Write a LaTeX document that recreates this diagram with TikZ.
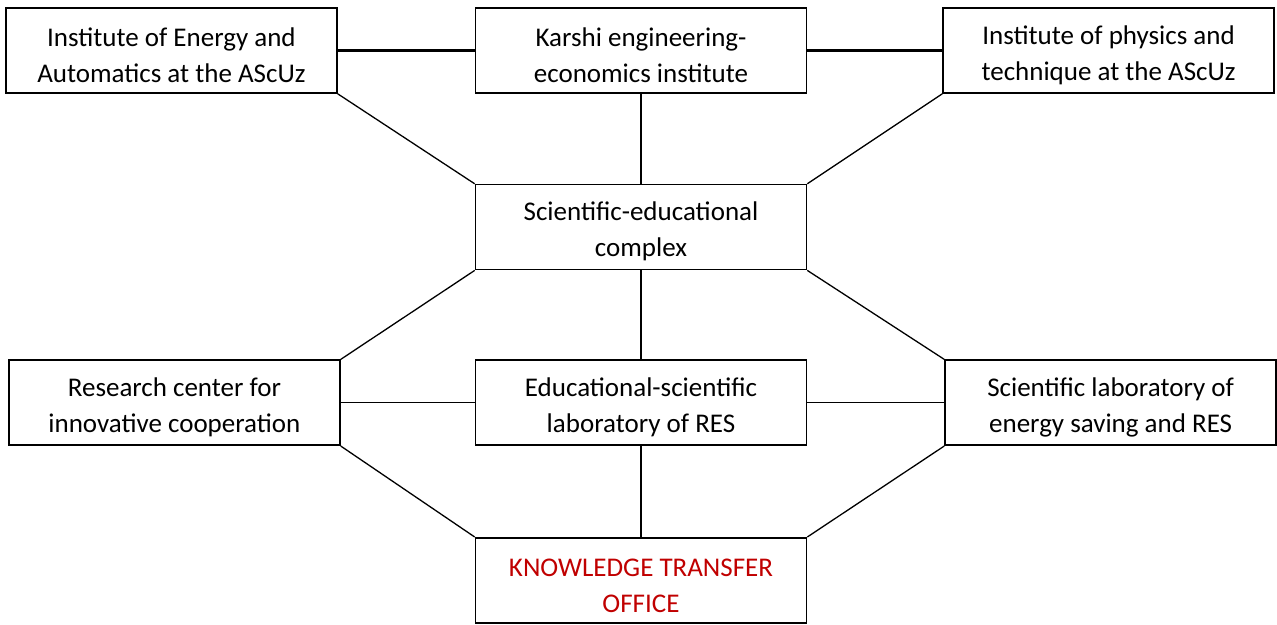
\documentclass[tikz,border=0pt]{standalone}
\usepackage{fontspec}
\setmainfont{Carlito}
\usetikzlibrary{positioning}
\definecolor{ktored}{RGB}{192,0,0}
\newcommand{\topstrut}{\rule{0pt}{28pt}}

\begin{document}
\begin{tikzpicture}[x=1pt, y=1pt, node distance=90pt and 136pt,
    box/.style={draw, line width=1.6pt, minimum width=331pt, minimum height=85pt,
      inner sep=0pt, align=center, font=\fontsize{27}{36}\selectfont},
    link/.style={line width=1.3pt},
    boldlink/.style={line width=2.6pt}]
  \useasboundingbox (0,0) rectangle (1277,-624);

  \node[box] (karshi) at (641,-50.5) {\topstrut Karshi engineering-\\economics institute};
  \node[box, left=137pt of karshi] (energy) {\topstrut Institute of Energy and\\Automatics at the AScUz};
  \node[box, right=135pt of karshi] (physics) {\topstrut Institute of physics and\\technique at the AScUz};
  \node[box, below=90pt of karshi] (complex) {\topstrut Scientific-educational\\complex};
  \node[box, below=89pt of complex] (edulab) {\topstrut Educational-scientific\\laboratory of RES};
  \node[box, left=134pt of edulab] (research) {\topstrut Research center for\\innovative cooperation};
  \node[box, right=137pt of edulab] (savelab) {\topstrut Scientific laboratory of\\energy saving and RES};
  \node[box, below=91pt of edulab, text=ktored] (kto) {\topstrut KNOWLEDGE TRANSFER\\OFFICE};

  \draw[boldlink] (energy) -- (karshi);
  \draw[boldlink] (karshi) -- (physics);
  \draw[link] (karshi) -- (complex);
  \draw[link] (energy.south east) -- (complex.north west);
  \draw[link] (physics.south west) -- (complex.north east);
  \draw[link] (complex.south west) -- (research.north east);
  \draw[link] (complex.south east) -- (savelab.north west);
  \draw[link] (complex) -- (edulab);
  \draw[link] (research) -- (edulab);
  \draw[link] (edulab) -- (savelab);
  \draw[link] (research.south east) -- (kto.north west);
  \draw[link] (edulab) -- (kto);
  \draw[link] (savelab.south west) -- (kto.north east);
\end{tikzpicture}
\end{document}
